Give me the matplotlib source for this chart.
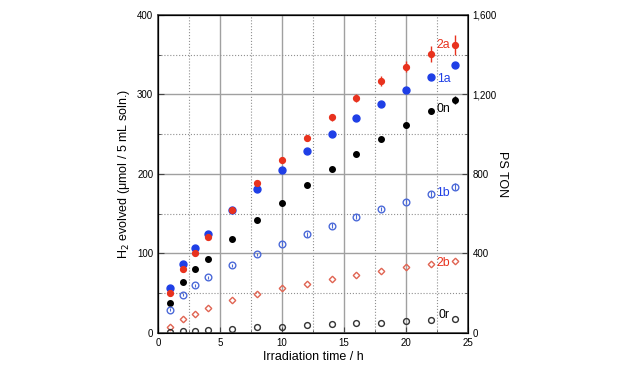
import numpy as np
import matplotlib.pyplot as plt
from matplotlib.ticker import MultipleLocator, FuncFormatter

plt.rcParams['font.family'] = ['Liberation Sans', 'DejaVu Sans']

# 数据
t = [1, 2, 3, 4, 6, 8, 10, 12, 14, 16, 18, 20, 22, 24]
h2_2a = [50, 80, 101, 121, 155, 188, 218, 245, 271, 295, 317, 335, 351, 362]
err_2a = [3, 3, 3, 3, 3, 3, 3, 4, 4, 5, 6, 7, 10, 13]
h2_1a = [57, 87, 107, 125, 155, 181, 205, 229, 250, 270, 288, 306, 322, 337]
h2_0n = [37, 64, 80, 93, 118, 142, 164, 186, 206, 225, 244, 261, 279, 293]
err_0n = [1, 1, 1, 1, 1, 1, 1, 2, 2, 2, 2, 3, 4, 5]
h2_1b = [29, 48, 60, 70, 85, 99, 112, 124, 135, 146, 156, 165, 175, 184]
err_1b = [2, 2, 2, 2, 2, 2, 3, 3, 3, 3, 3, 3, 4, 4]
h2_2b = [8, 17, 24, 31, 41, 49, 56, 62, 68, 73, 78, 83, 87, 91]
h2_0r = [1, 2, 2.5, 3, 5, 7, 8, 10, 11, 12, 13, 15, 16, 17]

blue = '#1f3fe6'
red = '#e8321e'
lblue = '#4c6ad8'
lred = '#e06452'

fig = plt.figure(figsize=(6.4, 3.65), dpi=100)
ax = fig.add_axes([0.247, 0.088, 0.484, 0.871])

ax.errorbar(t, h2_2a, yerr=err_2a, fmt='o', ms=4.2, color=red, ecolor=red,
            elinewidth=1, capsize=0, zorder=3)
ax.plot(t, h2_1a, 'o', ms=5, color=blue, zorder=3)
ax.errorbar(t, h2_0n, yerr=err_0n, fmt='o', ms=4, color='black', elinewidth=1,
            capsize=0, zorder=3)
ax.errorbar(t, h2_1b, yerr=err_1b, fmt='o', ms=4.8, mfc='none', mec=lblue,
            mew=1, ecolor=lblue, elinewidth=0.8, capsize=0, zorder=3)
ax.plot(t, h2_2b, 'D', ms=3.3, mfc='none', mec=lred, mew=1, zorder=3)
ax.plot(t, h2_0r, 'o', ms=4.2, mfc='none', mec='#333333', mew=1, zorder=3)

ax.set_xlim(0, 25)
ax.set_ylim(0, 400)
ax.xaxis.set_major_locator(MultipleLocator(5))
ax.xaxis.set_minor_locator(MultipleLocator(2.5))
ax.yaxis.set_major_locator(MultipleLocator(100))
ax.yaxis.set_minor_locator(MultipleLocator(50))
ax.grid(which='major', color='#a0a0a0', lw=1.0)
ax.grid(which='minor', color='#909090', lw=0.8, ls=':')
ax.set_axisbelow(True)
ax.tick_params(which='both', direction='in', labelsize=7, color='#444444')
ax.tick_params(which='major', length=4)
ax.tick_params(which='minor', length=2)
for s in ax.spines.values():
    s.set_color('#444444')
    s.set_linewidth(1.2)

ax.set_xlabel('Irradiation time / h', fontsize=9, labelpad=2)
ax.set_ylabel('H$_2$ evolved (μmol / 5 mL soln.)', fontsize=9, labelpad=4)

ax2 = ax.twinx()
ax2.set_ylim(0, 1600)
ax2.yaxis.set_major_locator(MultipleLocator(400))
ax2.yaxis.set_minor_locator(MultipleLocator(200))
ax2.yaxis.set_major_formatter(FuncFormatter(lambda v, p: f'{int(v):,}'))
ax2.tick_params(which='both', direction='in', labelsize=7, color='#444444')
ax2.tick_params(which='major', length=4)
ax2.tick_params(which='minor', length=2)
ax2.set_ylabel('PS TON', fontsize=9, rotation=270, labelpad=8)

# 标签
ax.text(22.45, 362, '2a', color=red, fontsize=8.8, va='center')
ax.text(22.5, 320, '1a', color=blue, fontsize=8.8, va='center')
ax.text(22.5, 282, '0n', color='black', fontsize=8.8, va='center')
ax.text(22.45, 176, '1b', color=blue, fontsize=8.8, va='center')
ax.text(22.45, 88, '2b', color=red, fontsize=8.8, va='center')
ax.text(22.6, 22, '0r', color='black', fontsize=8.8, va='center')

fig.savefig('out.png', dpi=100)
